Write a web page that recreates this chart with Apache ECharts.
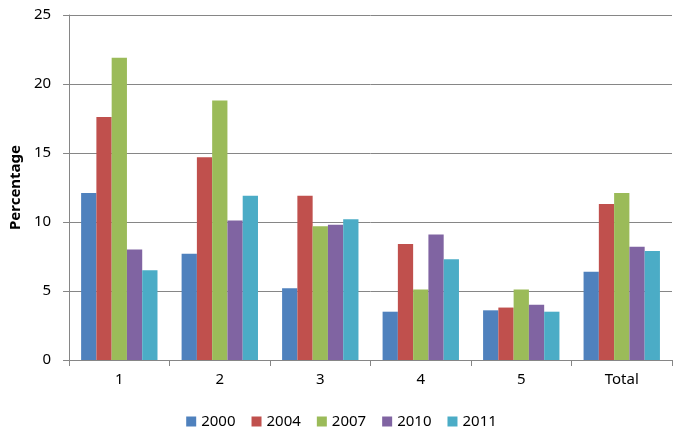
<!DOCTYPE html>
<html><head><meta charset="utf-8">
<script src="https://cdn.jsdelivr.net/npm/echarts@6/dist/echarts.min.js"></script>
<style>html,body{margin:0;padding:0;background:#fff}#c{width:683px;height:440px}</style>
</head><body><div id="c"></div>
<script>
const categories = ['1','2','3','4','5','Total'];
const years = ['2000','2004','2007','2010','2011'];
const v2000 = [12.1, 7.7, 5.2, 3.5, 3.6, 6.4];
const v2004 = [17.6, 14.7, 11.9, 8.4, 3.8, 11.3];
const v2007 = [21.9, 18.8, 9.7, 5.1, 5.1, 12.1];
const v2010 = [8.0, 10.1, 9.8, 9.1, 4.0, 8.2];
const v2011 = [6.5, 11.9, 10.2, 7.3, 3.5, 7.9];
const yTicks = [0, 5, 10, 15, 20, 25];
const colors = ['#4F81BD','#C0504D','#9BBB59','#8064A2','#4BACC6'];
const seriesValues = [v2000, v2004, v2007, v2010, v2011];
const font = '"Noto Sans", sans-serif';
const chart = echarts.init(document.getElementById('c'), null, {renderer:'canvas'});
chart.setOption({
  animation: false,
  color: colors,
  grid: {left: 66, right: 11, top: 15, bottom: 80, containLabel: false},
  legend: {
    bottom: 6, left: 'center', itemWidth: 10, itemHeight: 10, itemGap: 16,
    icon: 'rect',
    textStyle: {fontFamily: font, fontSize: 15, color: '#000'},
    data: years
  },
  xAxis: {
    type: 'category', data: categories,
    axisLine: {lineStyle: {color: '#868686', width: 1}},
    axisTick: {show: true, alignWithLabel: false, length: 6, lineStyle: {color: '#868686'}},
    axisLabel: {fontFamily: font, fontSize: 15, color: '#000', margin: 12}
  },
  yAxis: {
    type: 'value', min: yTicks[0], max: yTicks[yTicks.length-1], interval: 5,
    name: 'Percentage', nameLocation: 'middle', nameGap: 46, nameRotate: 90,
    nameTextStyle: {fontFamily: font, fontSize: 15, fontWeight: 'bold', color: '#000'},
    axisLine: {show: true, lineStyle: {color: '#868686'}},
    axisTick: {show: true, length: 6, lineStyle: {color: '#868686'}},
    splitLine: {lineStyle: {color: '#868686', width: 1}},
    axisLabel: {fontFamily: font, fontSize: 15, color: '#000', margin: 18}
  },
  series: years.map((y, i) => ({
    name: y, type: 'bar', data: seriesValues[i],
    barGap: '0%', barCategoryGap: '24%',
    itemStyle: {color: colors[i]}
  }))
});
</script></body></html>
